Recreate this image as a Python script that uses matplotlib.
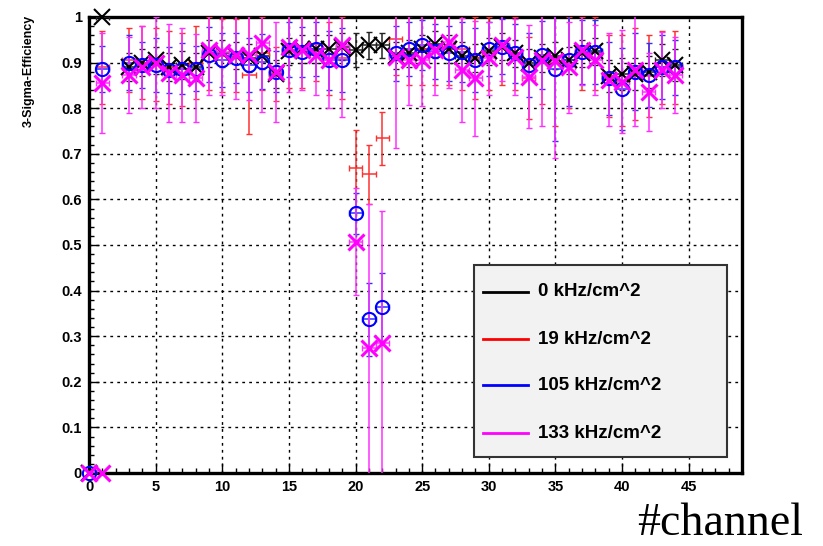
import matplotlib
matplotlib.use('Agg')
import matplotlib.pyplot as plt
from matplotlib.patches import Rectangle
from matplotlib.ticker import MultipleLocator

# channels (channel 2 is missing)
channels = [0, 1, 3, 4, 5, 6, 7, 8, 9, 10, 11, 12, 13, 14, 15, 16, 17, 18, 19, 20, 21, 22,
            23, 24, 25, 26, 27, 28, 29, 30, 31, 32, 33, 34, 35, 36, 37, 38, 39, 40, 41, 42, 43, 44]

eff_0 = [0.0, 1.0, 0.89, 0.90, 0.905, 0.89, 0.895, 0.89, 0.92, 0.92, 0.915, 0.91, 0.915, 0.875,
         0.925, 0.93, 0.93, 0.93, 0.935, 0.928, 0.938, 0.938, 0.915, 0.92, 0.93, 0.94, 0.93, 0.915,
         0.91, 0.925, 0.935, 0.92, 0.90, 0.91, 0.915, 0.905, 0.92, 0.925, 0.87, 0.875, 0.875, 0.88,
         0.905, 0.895]
err_0 = [0.0, 0.0, 0.03, 0.03, 0.03, 0.03, 0.03, 0.03, 0.03, 0.03, 0.03, 0.03, 0.03, 0.03,
         0.03, 0.03, 0.03, 0.03, 0.03, 0.037, 0.03, 0.028, 0.03, 0.03, 0.03, 0.03, 0.03, 0.03,
         0.03, 0.03, 0.03, 0.03, 0.03, 0.03, 0.03, 0.03, 0.03, 0.03, 0.035, 0.035, 0.035, 0.035,
         0.035, 0.035]

eff_19 = [0.0, 0.89, 0.905, 0.90, 0.895, 0.89, 0.885, 0.90, 0.92, 0.915, 0.915, 0.873, 0.92, 0.875,
          0.925, 0.925, 0.94, 0.91, 0.91, 0.668, 0.655, 0.734, 0.952, 0.93, 0.93, 0.93, 0.93, 0.93,
          0.91, 0.92, 0.93, 0.92, 0.866, 0.91, 0.90, 0.90, 0.92, 0.92, 0.87, 0.86, 0.875, 0.87,
          0.89, 0.89]
err_19 = [0.0, 0.08, 0.07, 0.08, 0.08, 0.08, 0.08, 0.08, 0.08, 0.08, 0.08, 0.13, 0.08, 0.06,
          0.08, 0.08, 0.08, 0.08, 0.09, 0.085, 0.065, 0.058, 0.08, 0.08, 0.08, 0.08, 0.08, 0.09,
          0.09, 0.08, 0.08, 0.08, 0.09, 0.1, 0.14, 0.1, 0.08, 0.08, 0.09, 0.1, 0.1, 0.09,
          0.08, 0.08]

eff_105 = [0.0, 0.886, 0.90, 0.895, 0.895, 0.884, 0.887, 0.887, 0.917, 0.906, 0.91, 0.895, 0.902, 0.88,
           0.928, 0.924, 0.93, 0.905, 0.905, 0.57, 0.337, 0.364, 0.92, 0.93, 0.938, 0.925, 0.92, 0.923,
           0.906, 0.93, 0.935, 0.92, 0.895, 0.917, 0.887, 0.905, 0.924, 0.924, 0.866, 0.843, 0.88, 0.873,
           0.89, 0.89]
err_105 = [0.0, 0.05, 0.06, 0.05, 0.06, 0.05, 0.055, 0.05, 0.06, 0.06, 0.055, 0.06, 0.06, 0.045,
           0.06, 0.055, 0.06, 0.065, 0.07, 0.045, 0.08, 0.075, 0.06, 0.06, 0.055, 0.06, 0.06, 0.065,
           0.07, 0.06, 0.06, 0.065, 0.07, 0.075, 0.16, 0.1, 0.07, 0.07, 0.08, 0.09, 0.085, 0.07,
           0.07, 0.06]

eff_133 = [0.0, 0.855, 0.873, 0.89, 0.90, 0.877, 0.873, 0.866, 0.928, 0.923, 0.917, 0.917, 0.942, 0.88,
           0.935, 0.928, 0.917, 0.905, 0.938, 0.507, 0.274, 0.285, 0.912, 0.905, 0.905, 0.928, 0.945, 0.884,
           0.866, 0.91, 0.938, 0.913, 0.869, 0.906, 0.903, 0.89, 0.928, 0.906, 0.862, 0.858, 0.884, 0.836,
           0.884, 0.873]
err_133 = [0.0, 0.11, 0.083, 0.09, 0.10, 0.107, 0.103, 0.096, 0.10, 0.093, 0.097, 0.10, 0.15, 0.11,
           0.10, 0.088, 0.087, 0.105, 0.158, 0.117, 0.316, 0.29, 0.2, 0.098, 0.10, 0.10, 0.10, 0.114,
           0.126, 0.08, 0.078, 0.083, 0.113, 0.146, 0.213, 0.10, 0.078, 0.076, 0.102, 0.113, 0.124, 0.086,
           0.084, 0.083]
# extra empty point of the 133 kHz set
extra_ch_133 = [1]
extra_eff_133 = [0.0]

labels = ['0 kHz/cm^2', '19 kHz/cm^2', '105 kHz/cm^2', '133 kHz/cm^2']
colors = ['#000000', '#ff0000', '#0000ff', '#ff00ff']
bar_colors = ['#222222', '#ff3030', '#3030ff', '#ff30ff']

plt.rcParams['font.family'] = ['Liberation Sans', 'DejaVu Sans']

fig = plt.figure(figsize=(8.23, 5.46), dpi=100)
ax = fig.add_axes([89 / 823, 73 / 546, 653 / 823, 456 / 546])

series = [(eff_0, err_0, 'x'),
          (eff_19, err_19, None),
          (eff_105, err_105, 'o'),
          (eff_133, err_133, 'x')]

for (vals, errs, mk), col, bcol in zip(series, colors, bar_colors):
    ax.errorbar(channels, vals, yerr=errs, xerr=0.5, fmt='none', ecolor=bcol,
                elinewidth=1.1, capsize=2.5, capthick=1.0, zorder=3)
    if mk is not None:
        ms = 11 if mk == 'x' else 9.5
        mew = 2.2 if col == '#ff00ff' else 1.5
        ax.plot(channels, vals, linestyle='none', marker=mk, markersize=ms,
                markerfacecolor='none', markeredgecolor=col, markeredgewidth=mew,
                clip_on=False, zorder=4)

ax.plot(extra_ch_133, extra_eff_133, linestyle='none', marker='x', markersize=11,
        markeredgecolor='#ff00ff', markeredgewidth=2.2, clip_on=False, zorder=4)

ax.set_xlim(0, 49)
ax.set_ylim(0, 1)
ax.xaxis.set_major_locator(MultipleLocator(5))
ax.xaxis.set_minor_locator(MultipleLocator(1))
ax.yaxis.set_minor_locator(MultipleLocator(0.02))
ax.set_yticks([0, 0.1, 0.2, 0.3, 0.4, 0.5, 0.6, 0.7, 0.8, 0.9, 1])
ax.set_yticklabels(['0', '0.1', '0.2', '0.3', '0.4', '0.5', '0.6', '0.7', '0.8', '0.9', '1'])
ax.tick_params(which='both', direction='in', top=False, right=False, labelsize=10.5, width=1)
ax.tick_params(which='major', length=7, pad=5)
ax.tick_params(which='minor', length=3.5)
for lab in ax.get_xticklabels() + ax.get_yticklabels():
    lab.set_fontweight('bold')
ax.grid(True, which='major', color='black', linestyle=(0, (2, 3)), linewidth=1.0)
ax.set_axisbelow(True)
for sp in ax.spines.values():
    sp.set_linewidth(2.4)

fig.text(0.035, 0.87, '3-Sigma-Efficiency', rotation=90, ha='center', va='center',
         fontsize=9, fontweight='bold')
fig.text(0.976, 0.02, '#channel', ha='right', va='baseline', fontsize=33,
         family=['Liberation Serif', 'DejaVu Serif'])

# legend box
lx0, ly0, lw, lh = 0.590, 0.035, 0.387, 0.421
ax.add_patch(Rectangle((lx0, ly0), lw, lh, transform=ax.transAxes, facecolor='#f2f2f2',
                       edgecolor='#333333', linewidth=1.5, zorder=6))
row_y = [(473 - 292) / 456, (473 - 339) / 456, (473 - 385) / 456, (473 - 433) / 456]
for ry, lab, col in zip(row_y, labels, colors):
    ax.plot([0.604, 0.672], [ry, ry], transform=ax.transAxes, color=col, linewidth=2, zorder=7,
            clip_on=False)
    ax.text(0.687, ry, lab, transform=ax.transAxes, ha='left', va='center', fontsize=13.5,
            fontweight='bold', zorder=7)

fig.savefig('out.png', dpi=100)
